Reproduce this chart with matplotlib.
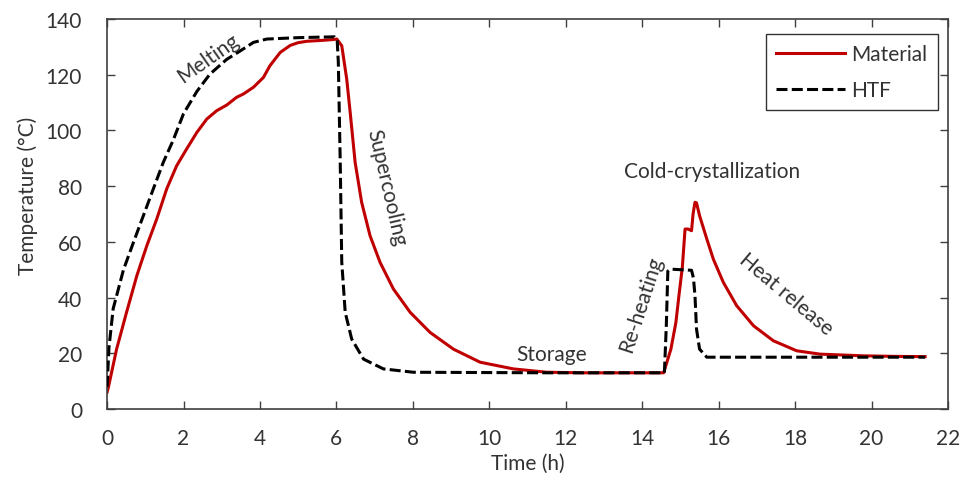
import matplotlib
matplotlib.use("Agg")
import matplotlib.pyplot as plt

# === DATA ===
mat_t = [0, 0.03, 0.25, 0.51, 0.78, 1.04, 1.30, 1.56, 1.82, 2.08, 2.35, 2.61,
         2.87, 3.13, 3.39, 3.57, 3.83, 4.09, 4.26, 4.53, 4.79, 5.0, 5.23, 5.6,
         5.9, 6.01, 6.14, 6.27, 6.36, 6.49, 6.66, 6.88, 7.14, 7.49, 7.93, 8.45,
         9.06, 9.76, 10.63, 11.5, 12.5, 13.5, 14.56, 14.75, 14.88, 14.96, 15.05,
         15.12, 15.2, 15.29, 15.33, 15.38, 15.42, 15.5, 15.69, 15.86, 16.12,
         16.47, 16.91, 17.43, 18.04, 18.65, 19.78, 20.6, 21.4]
mat_T = [6, 7.5, 21.5, 34.7, 47.9, 58.6, 68.2, 79, 87.3, 93.3, 99.3, 104.1,
         107.1, 109.1, 111.9, 113.1, 115.5, 119, 123.2, 128, 130.5, 131.5, 132, 132.3,
         132.6, 132.8, 130.4, 118.4, 106.5, 88.5, 74.2, 62.2, 52.7, 43.1, 34.7, 27.5,
         21.5, 16.8, 14.4, 13.2, 13, 13, 13, 21.5, 31, 40.7, 51,
         64.6, 64.6, 64, 70, 74.2, 74, 69.4, 61, 53.8, 45.5,
         37.1, 29.9, 24.5, 20.9, 19.7, 19.1, 18.9, 18.8]

htf_t = [0, 0.05, 0.16, 0.43, 0.69, 0.95, 1.21, 1.47, 1.73, 2.0, 2.35, 2.69,
         3.13, 3.48, 3.83, 4.18, 5.0, 5.95, 6.02, 6.05, 6.1, 6.14, 6.23, 6.4,
         6.71, 7.23, 8.01, 11.5, 14.58, 14.63, 14.67, 14.75, 15.29, 15.34,
         15.38, 15.42, 15.5, 15.69, 17, 21.4]
htf_T = [8, 22, 36, 50, 59.8, 69.4, 79, 88.5, 96.5, 106, 114, 120.2,
         125.5, 128.5, 131.6, 132.8, 133.3, 133.6, 132.5, 124.4, 88.5, 52.7, 34.7, 25.1,
         17.9, 14.4, 13.2, 13, 13, 30, 49.5, 50.2, 49.8, 47,
         40.7, 28.7, 21.5, 18.6, 18.6, 18.6]

x_ticks = [0, 2, 4, 6, 8, 10, 12, 14, 16, 18, 20, 22]
y_ticks = [0, 20, 40, 60, 80, 100, 120, 140]

# (text, t, T, rotation)
phases = [("Melting", 2.65, 126, 35),
          ("Supercooling", 7.32, 79.7, -77),
          ("Storage", 11.63, 19.7, 0),
          ("Re-heating", 13.96, 38, 72),
          ("Cold-crystallization", 15.82, 85.4, 0),
          ("Heat release", 17.75, 41.3, -40)]

# === STYLE ===
plt.rcParams["font.family"] = ["Lato", "DejaVu Sans"]
txt = "#333333"
fs = 15

fig = plt.figure(figsize=(9.67, 4.85), dpi=100)
ax = fig.add_axes([0.1107, 0.1546, 0.8697, 0.8042])

ax.plot(mat_t, mat_T, color="#C00000", lw=2.2, label="Material", zorder=2)
ax.plot(htf_t, htf_T, color="black", lw=2.2, dashes=(3.6, 1.4), label="HTF",
        zorder=3)

for s, t, T, rot in phases:
    ax.text(t, T, s, rotation=rot, rotation_mode="anchor", ha="center",
            va="center", fontsize=fs, color=txt)

ax.set_xlim(0, 22)
ax.set_ylim(0, 140)
ax.set_xticks(x_ticks)
ax.set_yticks(y_ticks)
ax.tick_params(direction="in", top=True, right=True, length=6, width=1,
               color="#404040", labelsize=fs, labelcolor=txt)
ax.tick_params(axis="x", pad=14)
ax.tick_params(axis="y", pad=18)
for sp in ax.spines.values():
    sp.set_color("#404040")
    sp.set_linewidth(1.2)

ax.set_xlabel("Time (h)", fontsize=fs, color=txt, labelpad=3)
ax.set_ylabel("Temperature (°C)", fontsize=fs, color=txt)
ax.yaxis.set_label_coords(-0.082, 0.55)

leg = ax.legend(loc="upper right", bbox_to_anchor=(0.988, 0.962),
                borderaxespad=0, fontsize=fs, fancybox=False, handlelength=3.3,
                handletextpad=0.3, labelcolor=txt, borderpad=0.5,
                labelspacing=0.75)
leg.get_frame().set_edgecolor("black")
leg.get_frame().set_linewidth(1.0)

fig.savefig("out.png", dpi=100)
